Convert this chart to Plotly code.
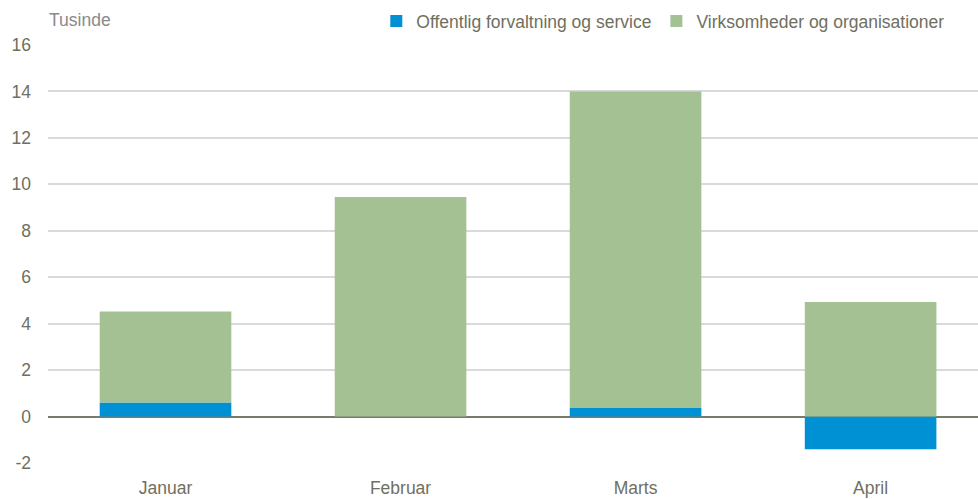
import plotly.graph_objects as go

months = ["Januar", "Februar", "Marts", "April"]
offentlig = [0.6, 0.0, 0.37, -1.41]
virksomheder = [3.92, 9.45, 13.63, 4.93]
y_ticks = [-2, 0, 2, 4, 6, 8, 10, 12, 14, 16]
y_tick_labels = [str(v) for v in y_ticks]

txt = "#6f6f5f"
font = "Liberation Sans, Arial, sans-serif"
fs = 17.5

fig = go.Figure()
fig.add_trace(go.Bar(x=months, y=offentlig, name="Offentlig forvaltning og service",
                     marker=dict(color="#0090D4", line=dict(width=0))))
fig.add_trace(go.Bar(x=months, y=virksomheder, name="Virksomheder og organisationer",
                     marker=dict(color="#A4C194", line=dict(width=0))))

fig.update_layout(
    width=978, height=499,
    barmode="relative", bargap=0.44,
    margin=dict(l=48, r=0, t=45, b=36, autoexpand=False),
    paper_bgcolor="white", plot_bgcolor="white",
    font=dict(family=font, size=fs, color=txt),
    legend=dict(orientation="h", x=0.353, xanchor="left", y=1.057, yanchor="middle",
                font=dict(size=fs, color=txt), itemwidth=30, bgcolor="rgba(0,0,0,0)",
                traceorder="normal"),
    xaxis=dict(range=[-0.5, 3.457], showgrid=False, showline=False, ticks="",
               automargin=False, ticklabelstandoff=12, tickfont=dict(size=fs, color=txt)),
    yaxis=dict(range=[-2, 16], tickvals=y_ticks, ticktext=y_tick_labels,
               showgrid=True, gridcolor="#d9d9d9", gridwidth=1.5,
               zeroline=True, zerolinecolor="#7a7a6a", zerolinewidth=2,
               showline=False, ticks="", ticklabelstandoff=16, automargin=False,
               tickfont=dict(size=fs, color=txt)),
    annotations=[dict(text="Tusinde", xref="paper", yref="paper", x=-0.001, y=1.06,
                      xanchor="left", yanchor="middle", showarrow=False,
                      font=dict(size=fs, color="#8a8a8a"))],
)

fig.write_html("out.html", config={"displayModeBar": False},
               post_script="document.body.style.margin='0';")
